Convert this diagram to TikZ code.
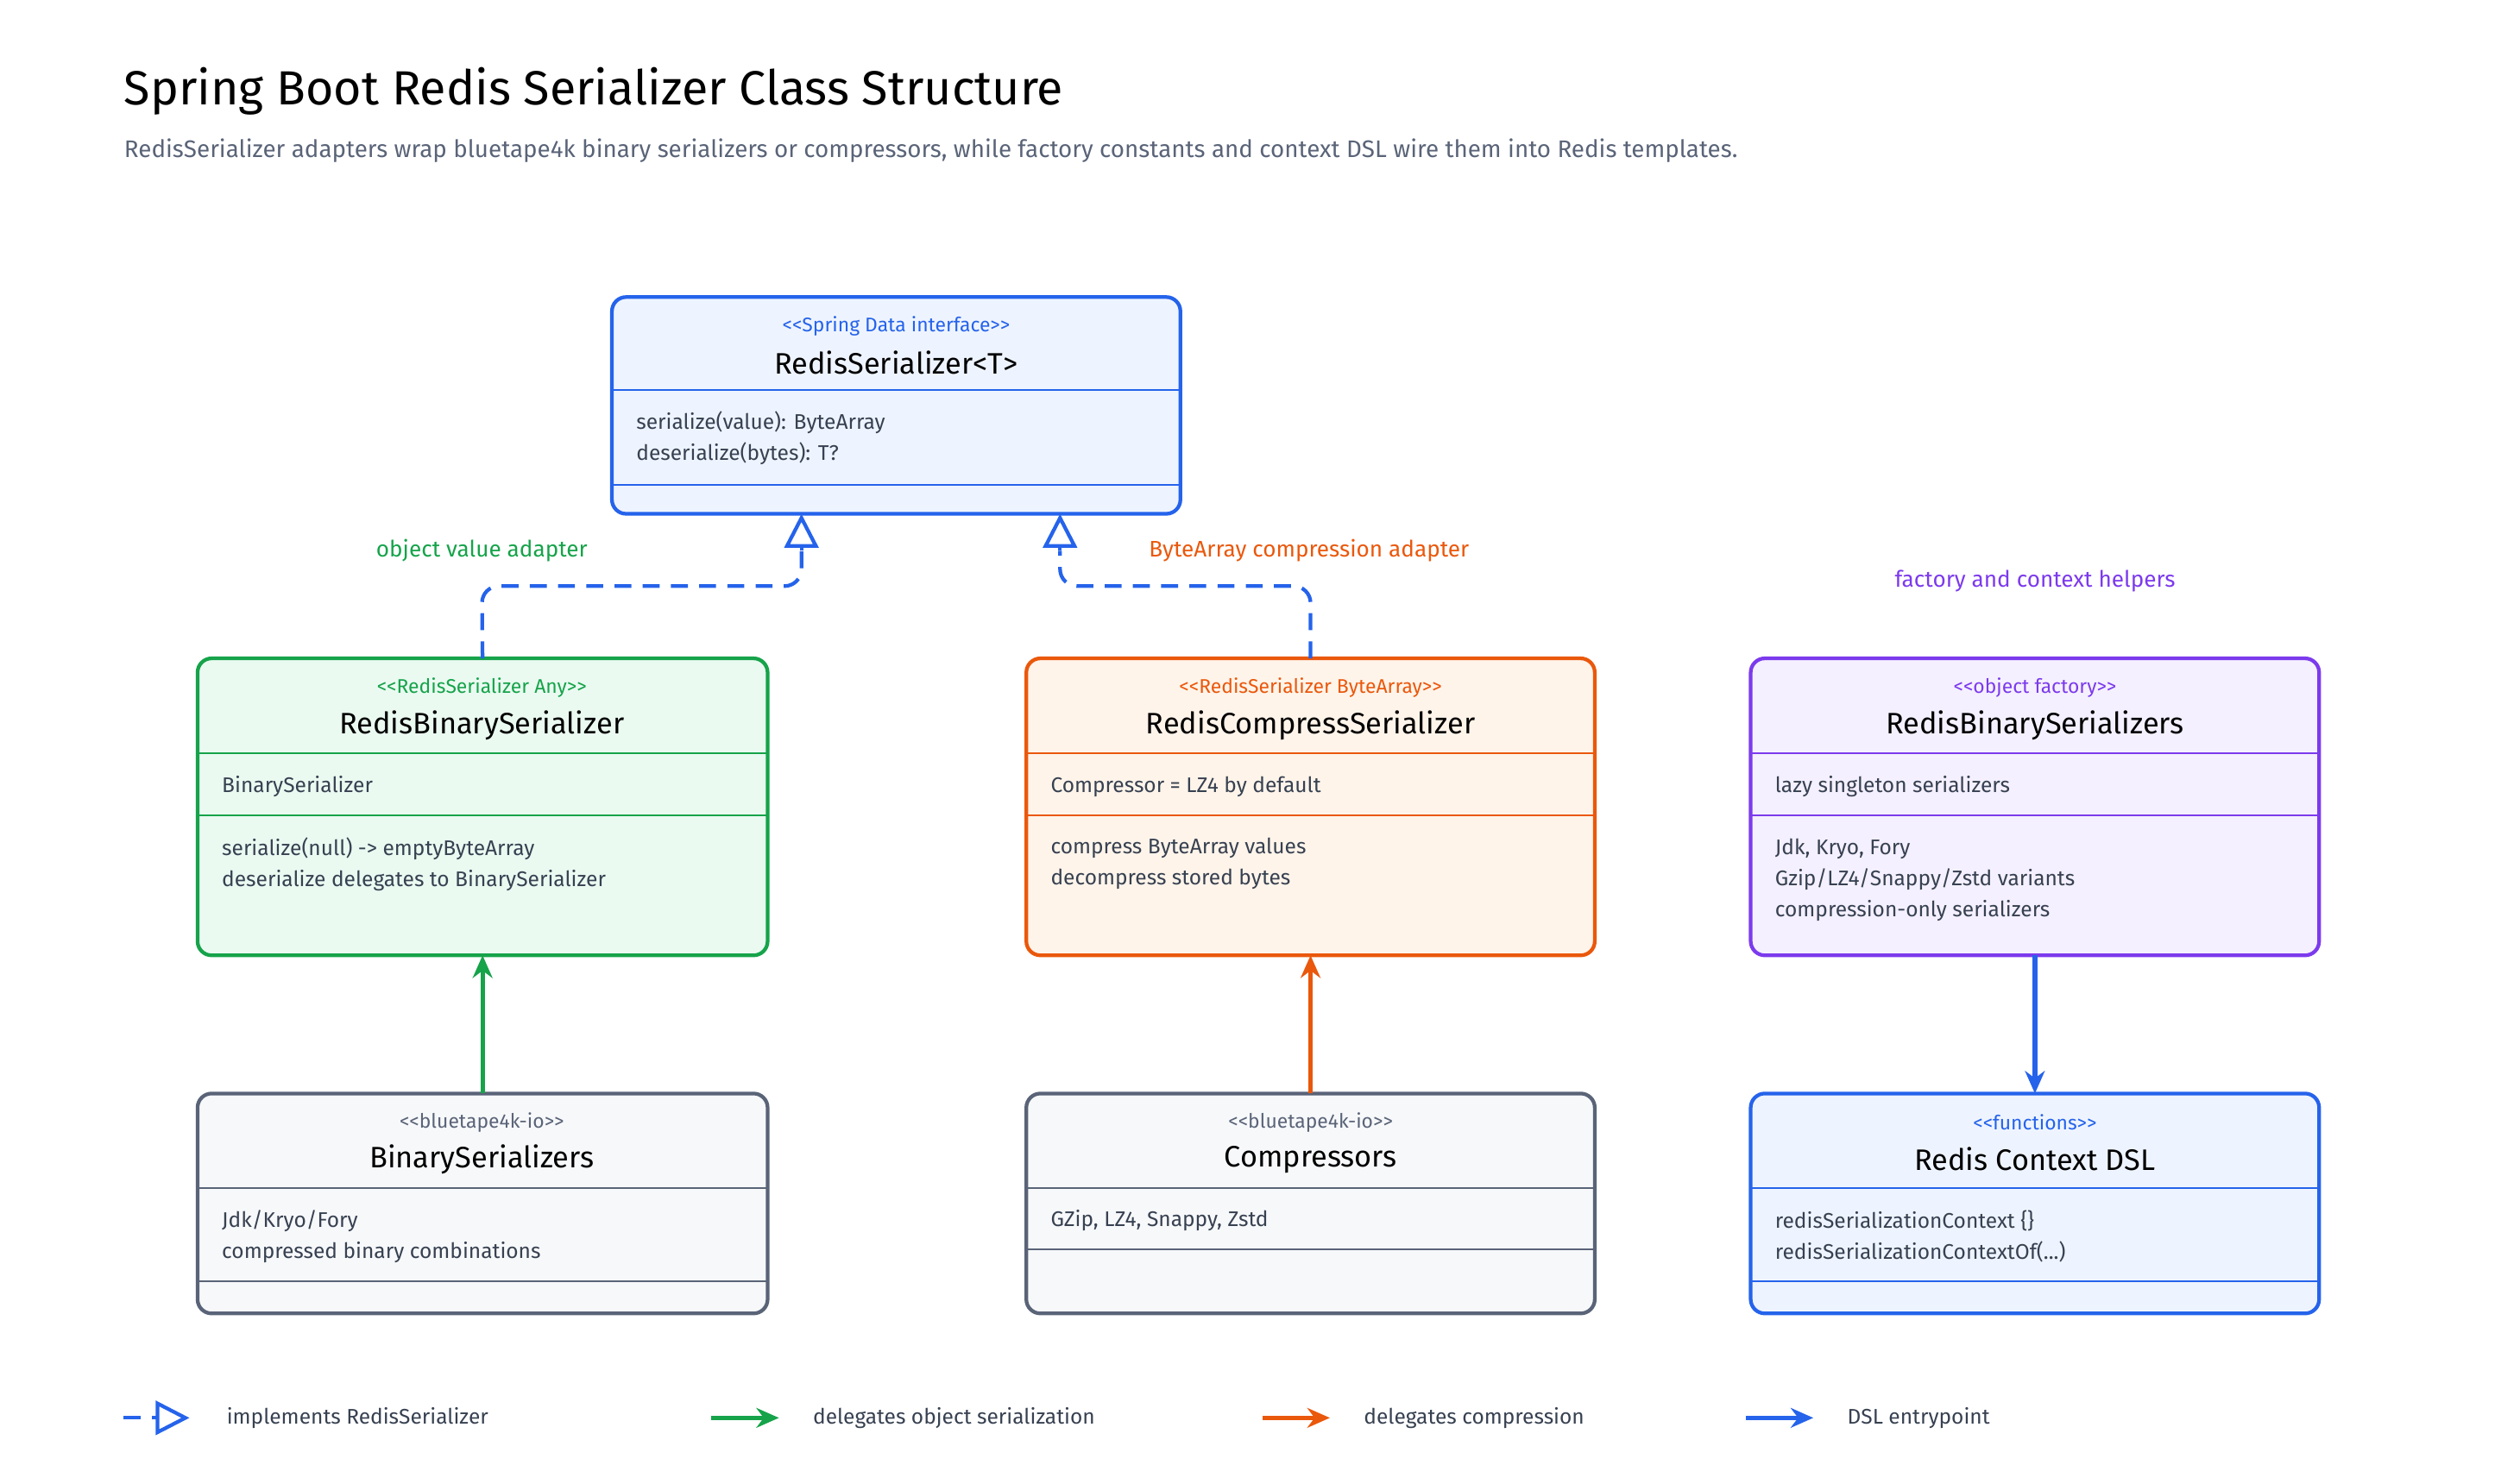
\documentclass[tikz,border=0pt]{standalone}
\usepackage{fontspec}
\setmainfont{Fira Sans}
\usetikzlibrary{arrows.meta}
\definecolor{cblue}{HTML}{2563EB}\definecolor{fblue}{HTML}{EEF4FF}
\definecolor{cgreen}{HTML}{16A34A}\definecolor{fgreen}{HTML}{EAFAF1}
\definecolor{corange}{HTML}{EA580C}\definecolor{forange}{HTML}{FFF4EA}
\definecolor{cpurple}{HTML}{7C3AED}\definecolor{fpurple}{HTML}{F4F0FF}
\definecolor{cgray}{HTML}{5A6478}\definecolor{fgray}{HTML}{F7F8FA}
\definecolor{ctext}{HTML}{374151}
\newcommand{\stq}[1]{{<}{<}#1{>}{>}}
\begin{document}
\begin{tikzpicture}[x=0.02cm, y=-0.02cm,
    box/.style = {draw, line width=1.3pt, rounded corners=5pt, anchor=north west, inner sep=0pt, outer sep=0pt},
    stereo/.style = {font=\fontsize{7}{8}\selectfont},
    cname/.style = {font=\fontsize{10.5}{12}\selectfont, text=black},
    body/.style = {font=\fontsize{7.5}{11}\selectfont, text=ctext, anchor=west, align=left},
    legend/.style = {font=\fontsize{7.5}{9}\selectfont, text=ctext, anchor=west},
    impl/.style = {cblue, line width=1.3pt, dash pattern=on 6pt off 4pt, rounded corners=6pt},
    tri/.style = {cblue, line width=1.3pt, -{Triangle[open,length=12pt,width=12pt]}},
    deleg/.style = {line width=1.6pt, -{Stealth[length=8pt,width=7pt]}},
  ]
  \useasboundingbox (0,0) rectangle (1569,924);
  \node[anchor=west, inner sep=0pt, font=\fontsize{17}{20}\selectfont] (title) at (77,57) {Spring Boot Redis Serializer Class Structure};
  \node[anchor=west, inner sep=0pt, font=\fontsize{8.5}{10}\selectfont, text=cgray] (sub) at (77,94) {RedisSerializer adapters wrap bluetape4k binary serializers or compressors, while factory constants and context DSL wire them into Redis templates.};

  % interface
  \node[box, cblue, fill=fblue, minimum width=7.08cm, minimum height=2.7cm] (rs) at (381,185) {};
  \draw[cblue, line width=0.6pt] (381,243) -- (735,243) (381,302) -- (735,302);
  \node[stereo, text=cblue] (rsS) at (558,203) {\stq{Spring Data interface}};
  \node[cname] (rsN) at (558,226) {RedisSerializer<T>};
  \node[body] (rsB) at (390,273) {serialize(value): ByteArray\\deserialize(bytes): T?};

  % adapters
  \node[box, cgreen, fill=fgreen, minimum width=7.1cm, minimum height=3.7cm] (bin) at (123,410) {};
  \draw[cgreen, line width=0.6pt] (123,469) -- (478,469) (123,508) -- (478,508);
  \node[stereo, text=cgreen] (binS) at (300,428) {\stq{RedisSerializer Any}};
  \node[cname] (binN) at (300,452) {RedisBinarySerializer};
  \node[body] (binF) at (132,490) {BinarySerializer};
  \node[body] (binB) at (132,538) {serialize(null) -> emptyByteArray\\deserialize delegates to BinarySerializer};

  \node[box, corange, fill=forange, minimum width=7.08cm, minimum height=3.7cm] (cmp) at (639,410) {};
  \draw[corange, line width=0.6pt] (639,469) -- (993,469) (639,508) -- (993,508);
  \node[stereo, text=corange] (cmpS) at (816,428) {\stq{RedisSerializer ByteArray}};
  \node[cname] (cmpN) at (816,452) {RedisCompressSerializer};
  \node[body] (cmpF) at (648,490) {Compressor = LZ4 by default};
  \node[body] (cmpB) at (648,538) {compress ByteArray values\\decompress stored bytes};

  \node[box, cpurple, fill=fpurple, minimum width=7.08cm, minimum height=3.7cm] (fac) at (1090,410) {};
  \draw[cpurple, line width=0.6pt] (1090,469) -- (1444,469) (1090,508) -- (1444,508);
  \node[stereo, text=cpurple] (facS) at (1267,428) {\stq{object factory}};
  \node[cname] (facN) at (1267,452) {RedisBinarySerializers};
  \node[body] (facF) at (1099,490) {lazy singleton serializers};
  \node[body] (facB) at (1099,548) {Jdk, Kryo, Fory\\Gzip/LZ4/Snappy/Zstd variants\\compression-only serializers};

  % bottom row
  \node[box, cgray, fill=fgray, minimum width=7.1cm, minimum height=2.74cm] (bs) at (123,681) {};
  \draw[cgray, line width=0.6pt] (123,740) -- (478,740) (123,798) -- (478,798);
  \node[stereo, text=cgray] (bsS) at (300,699) {\stq{bluetape4k-io}};
  \node[cname] (bsN) at (300,722) {BinarySerializers};
  \node[body] (bsB) at (132,770) {Jdk/Kryo/Fory\\compressed binary combinations};

  \node[box, cgray, fill=fgray, minimum width=7.08cm, minimum height=2.74cm] (cs) at (639,681) {};
  \draw[cgray, line width=0.6pt] (639,740) -- (993,740) (639,778) -- (993,778);
  \node[stereo, text=cgray] (csS) at (816,699) {\stq{bluetape4k-io}};
  \node[cname] (csN) at (816,722) {Compressors};
  \node[body] (csB) at (648,760) {GZip, LZ4, Snappy, Zstd};

  \node[box, cblue, fill=fblue, minimum width=7.08cm, minimum height=2.74cm] (dsl) at (1090,681) {};
  \draw[cblue, line width=0.6pt] (1090,740) -- (1444,740) (1090,798) -- (1444,798);
  \node[stereo, text=cblue] (dslS) at (1267,699) {\stq{functions}};
  \node[cname] (dslN) at (1267,722) {Redis Context DSL};
  \node[body] (dslB) at (1099,770) {redisSerializationContext \{\}\\redisSerializationContextOf(...)};

  % relations
  \coordinate (rsL) at (499,320);
  \coordinate (rsR) at (660,320);
  \draw[impl] (bin.north) -- (300,365) -- (499,365) -- (499,343);
  \draw[impl] (cmp.north) -- (816,365) -- (660,365) -- (660,343);
  \draw[tri] (499,343) -- (rsL);
  \draw[tri] (660,343) -- (rsR);
  \draw[deleg, cgreen] (bs.north) -- (bin.south);
  \draw[deleg, corange] (cs.north) -- (cmp.south);
  \draw[deleg, cblue] (fac.south) -- (dsl.north);

  \node[font=\fontsize{8}{9}\selectfont, text=cgreen] (l1) at (300,343) {object value adapter};
  \node[font=\fontsize{8}{9}\selectfont, text=corange] (l2) at (815,343) {ByteArray compression adapter};
  \node[font=\fontsize{8}{9}\selectfont, text=cpurple] (l3) at (1267,362) {factory and context helpers};

  % legend
  \coordinate (g1a) at (77,883); \coordinate (g1b) at (118,883);
  \draw[cblue, line width=1.3pt, dash pattern=on 6pt off 4pt] (g1a) -- (96,883);
  \draw[tri] (96,883) -- (g1b);
  \node[legend] (t1) at (135,883) {implements RedisSerializer};
  \coordinate (g2a) at (443,883); \coordinate (g2b) at (485,883);
  \draw[deleg, cgreen] (g2a) -- (g2b);
  \node[legend] (t2) at (500,883) {delegates object serialization};
  \coordinate (g3a) at (786,883); \coordinate (g3b) at (828,883);
  \draw[deleg, corange] (g3a) -- (g3b);
  \node[legend] (t3) at (843,883) {delegates compression};
  \coordinate (g4a) at (1087,883); \coordinate (g4b) at (1129,883);
  \draw[deleg, cblue] (g4a) -- (g4b);
  \node[legend] (t4) at (1144,883) {DSL entrypoint};
\end{tikzpicture}
\end{document}
